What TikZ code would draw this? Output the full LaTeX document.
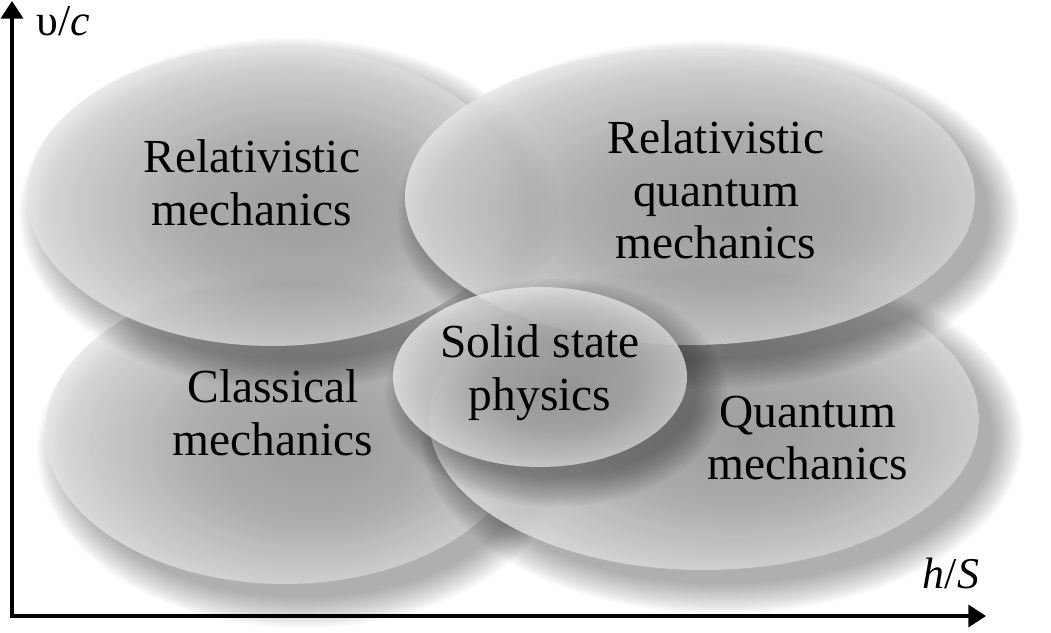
\documentclass[tikz,border=0pt]{standalone}
\usepackage{fontspec}
\setmainfont{Liberation Serif}
\usetikzlibrary{arrows.meta,shapes.geometric}

\pgfdeclareradialshading{orb}{\pgfpoint{4bp}{-3bp}}{%
  rgb(0bp)=(0.60,0.60,0.60);
  rgb(12bp)=(0.67,0.67,0.67);
  rgb(21bp)=(0.80,0.80,0.80);
  rgb(28bp)=(0.92,0.92,0.92);
  rgb(50bp)=(0.92,0.92,0.92)}

\begin{document}
\begin{tikzpicture}[
  x=0.02cm, y=-0.02cm,
  blob/.style={
    ellipse,
    shade,
    shading=orb,
    fill opacity=0.82,
    inner sep=0pt
  },
  umbra/.style={fill=black, opacity=0.022},
  lbl/.style={
    font=\fontsize{27}{30}\selectfont,
    align=center
  },
  axislbl/.style={font=\fontsize{25}{28}\selectfont},
  axis/.style={
    line width=1.9pt,
    line join=miter,
    {Triangle[length=10pt,width=12.5pt]}-{Triangle[length=10pt,width=12.5pt]}
  }
]
\useasboundingbox (0,0) rectangle (1051,632);

% classical mechanics
\foreach \k in {0,...,15}
  \fill[umbra] (303,450) ellipse [x radius=266-2*\k, y radius=178-2*\k];
\node[blob,minimum width=9.6cm,minimum height=6.08cm] (cm) at (285,432) {};

% quantum mechanics
\foreach \k in {0,...,15}
  \fill[umbra] (722,437) ellipse [x radius=301-2*\k, y radius=177-2*\k];
\node[blob,minimum width=11cm,minimum height=6.04cm] (qm) at (704,419) {};

% relativistic mechanics
\foreach \k in {0,...,15}
  \fill[umbra] (290,214) ellipse [x radius=271-2*\k, y radius=176-2*\k];
\node[blob,minimum width=9.8cm,minimum height=6cm] (rm) at (272,196) {};

% relativistic quantum mechanics
\foreach \k in {0,...,15}
  \fill[umbra] (708,215) ellipse [x radius=311-2*\k, y radius=174-2*\k];
\node[blob,minimum width=11.4cm,minimum height=5.92cm] (rqm) at (690,197) {};

% solid state physics
\foreach \k in {0,...,15}
  \fill[umbra] (556,393) ellipse [x radius=171-2*\k, y radius=114-2*\k];
\node[blob,minimum width=5.88cm,minimum height=3.6cm] (ssp) at (540,377) {};

% labels
\node[lbl] (rmtxt) at (252,183) {Relativistic\\mechanics};
\node[lbl] (rqmtxt) at (716,190) {Relativistic\\quantum\\mechanics};
\node[lbl] (cmtxt) at (273,413) {Classical\\mechanics};
\node[lbl] (ssptxt) at (540,373) {Solid state\\physics};
\node[lbl] (qmtxt) at (808,438) {Quantum\\mechanics};

% axes
\coordinate (o) at (12,616);
\coordinate (ytip) at (12,1);
\coordinate (xtip) at (986,616);
\draw[axis] (ytip) -- (o) -- (xtip);
\node[axislbl] (vc) at (63,21) {υ/\textit{c}};
\node[axislbl] (hs) at (951,573) {\textit{h}/\textit{S}};
\end{tikzpicture}
\end{document}
